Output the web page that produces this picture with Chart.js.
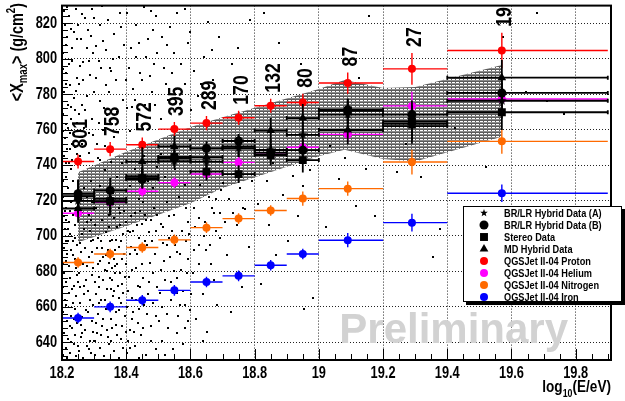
<!DOCTYPE html>
<html>
<head>
<meta charset="utf-8">
<script src="https://cdn.jsdelivr.net/npm/chart.js@4.4.1/dist/chart.umd.min.js"></script>
<style>
  html, body { margin: 0; padding: 0; background: #fff; }
  #wrap { width: 625px; height: 401px; }
</style>
</head>
<body>
<div id="wrap"><canvas id="xmaxChart" width="625" height="401"></canvas></div>
<script>
// <Xmax> vs log10(E/eV) - data sets and QGSJet II-04 expectations

// energy bins
const binCenters = [18.25, 18.35, 18.45, 18.55, 18.65, 18.75, 18.85, 18.95, 19.09, 19.29, 19.57];
const binLow     = [18.2, 18.3, 18.4, 18.5, 18.6, 18.7, 18.8, 18.9, 19.0, 19.2, 19.4];
const binHigh    = [18.3, 18.4, 18.5, 18.6, 18.7, 18.8, 18.9, 19.0, 19.2, 19.4, 19.9];
const eventCounts = ['801', '758', '572', '395', '289', '170', '132', '80', '87', '27', '19'];

// QGSJet II-04 predictions
const protonXmax   = [742.0, 749.0, 751.5, 760.3, 763.7, 766.7, 773.5, 775.3, 786.3, 794.3, 804.7];
const protonErr    = [4, 4, 4, 4, 4, 4, 4, 5, 6, 9, 10];
const heliumXmax   = [712.8, 719.0, 725.2, 730.1, 735.0, 741.5, 746.0, 750.1, 757.3, 773.4, 777.3];
const heliumErr    = [3, 3, 3, 3, 3, 3, 3, 3, 4, 8, 6];
const nitrogenXmax = [685.0, 689.8, 693.5, 697.8, 704.7, 709.8, 714.4, 721.1, 726.7, 741.7, 753.4];
const nitrogenErr  = [3, 3, 3, 3, 3, 3, 3, 4, 4, 7, 7];
const ironXmax     = [653.7, 660.0, 663.7, 669.3, 674.0, 677.5, 683.5, 689.8, 697.6, 707.5, 724.1];
const ironErr      = [3, 3, 3, 3, 3, 3, 3, 3, 4, 5, 5];

// measured data
const hybridAXmax  = [719.8, 719.4, 733.8, 742.2, 742.0, 749.5, 748.5, 757.1, 768.5, 763.2, 776.3];
const hybridAErr   = [7, 6, 5, 4, 4, 5, 6, 7, 7, 9, 10];
const hybridBXmax  = [723.8, 725.7, 732.0, 744.0, 749.4, 753.6, 747.0, 748.4, 771.2, 768.5, 780.7];
const hybridBErr   = [8, 7, 5, 4, 4, 4, 5, 6, 6, 8, 9];
const stereoXmax   = [722.5, 719.6, 732.6, 744.6, 736.3, 734.9, 745.7, 742.8, 770.6, 764.6, 769.8];
const stereoErr    = [9, 8, 6, 5, 5, 5, 6, 7, 7, 9, 10];
const mdXmax       = [715.5, 721.0, 742.0, 750.5, 744.5, 750.5, 759.5, 766.5, 759.8, 762.0, 789.3];
const mdErr        = [8, 8, 8, 6, 6, 6, 7, 8, 8, 10, 10];

// shaded band (edges)
const bandX     = [18.25, 18.4, 18.6, 18.7, 19.0, 19.08, 19.2, 19.3, 19.57];
const bandUpper = [736.0, 747.5, 761.5, 767.0, 783.0, 788.0, 783.5, 784.0, 796.5];
const bandLower = [696.5, 705.5, 718.5, 727.0, 745.0, 748.6, 743.5, 742.0, 756.0];

// axes
const xTickValues = [18.2, 18.4, 18.6, 18.8, 19.0, 19.2, 19.4, 19.6, 19.8];
const xTickLabels = ['18.2', '18.4', '18.6', '18.8', '19', '19.2', '19.4', '19.6', '19.8'];
const yTickValues = [640, 660, 680, 700, 720, 740, 760, 780, 800, 820];

const legendLabels = [
    'BR/LR Hybrid Data (A)', 'BR/LR Hybrid Data (B)', 'Stereo Data', 'MD Hybrid Data',
    'QGSJet II-04 Proton', 'QGSJet II-04 Helium', 'QGSJet II-04 Nitrogen', 'QGSJet II-04 Iron'
];

// individual events (approximate)
const eventDots = [
    [18.203,633],[18.212,637],[18.224,634],[18.236,639],[18.245,632],[18.207,645],[18.219,642],[18.231,648],[18.242,644],
    [18.215,652],[18.204,657],[18.228,655],[18.239,659],[18.248,651],[18.209,664],[18.221,668],[18.233,662],[18.244,666],
    [18.213,674],[18.205,679],[18.226,676],[18.238,672],[18.247,678],[18.211,686],[18.222,683],[18.234,689],[18.243,682],
    [18.206,693],[18.218,697],[18.229,692],[18.241,699],[18.208,704],[18.223,708],[18.214,716],[18.235,712],[18.204,722],
    [18.219,727],[18.211,733],[18.227,738],[18.205,745],[18.216,749],[18.232,743],[18.209,755],[18.224,758],[18.213,763],
    [18.203,769],[18.229,766],[18.218,774],[18.241,771],[18.207,781],[18.226,785],[18.236,778],[18.212,792],[18.221,797],
    [18.246,789],[18.204,803],[18.231,806],[18.217,812],[18.209,819],[18.238,815],[18.223,824],[18.243,828],[18.206,827],
    [18.253,635],[18.266,631],[18.278,638],[18.291,634],[18.259,643],[18.272,647],[18.286,641],[18.297,646],[18.262,654],
    [18.281,657],[18.294,652],[18.256,662],[18.269,667],[18.288,664],[18.257,671],[18.276,675],[18.292,678],[18.264,684],
    [18.283,688],[18.298,682],[18.271,693],[18.289,697],[18.255,745],[18.274,752],[18.268,761],[18.285,758],[18.293,766],
    [18.261,774],[18.279,779],[18.252,786],[18.287,791],[18.266,798],[18.296,803],[18.258,811],[18.281,816],[18.271,823],
    [18.292,828],
    [18.304,633],[18.318,637],[18.331,632],[18.347,639],[18.362,635],[18.378,631],[18.391,637],[18.309,645],[18.325,649],
    [18.342,643],[18.356,648],[18.371,644],[18.386,649],[18.313,656],[18.336,659],[18.352,653],[18.368,657],[18.383,662],
    [18.397,655],[18.306,667],[18.322,664],[18.339,670],[18.359,666],[18.374,672],[18.391,668],[18.315,677],[18.333,681],
    [18.348,676],[18.364,683],[18.381,679],[18.327,688],[18.344,692],[18.361,687],[18.376,694],[18.394,690],[18.311,699],
    [18.337,702],[18.356,698],[18.372,705],[18.389,701],[18.308,752],[18.327,760],[18.341,768],[18.319,776],[18.357,763],
    [18.372,770],[18.336,785],[18.389,777],[18.352,793],[18.314,799],[18.378,801],[18.329,810],[18.363,814],[18.394,808],
    [18.343,822],[18.381,826],
    [18.404,634],[18.428,638],[18.461,633],[18.412,647],[18.446,644],[18.478,649],[18.421,657],[18.455,661],[18.492,655],
    [18.407,669],[18.437,672],[18.469,667],[18.417,681],[18.448,684],[18.482,679],[18.426,692],[18.458,697],[18.489,690],
    [18.405,703],[18.433,706],[18.471,702],[18.415,711],[18.442,714],[18.463,709],[18.486,716],[18.452,719],[18.497,712],
    [18.412,759],[18.436,768],[18.458,774],[18.421,783],[18.479,781],[18.444,792],[18.487,797],[18.416,806],[18.467,811],
    [18.432,819],[18.493,824],
    [18.512,641],[18.546,636],[18.583,648],[18.527,656],[18.568,661],[18.504,668],[18.541,674],[18.589,679],[18.519,686],
    [18.557,691],[18.593,687],[18.533,699],[18.574,703],[18.508,707],[18.549,712],[18.586,716],[18.526,719],[18.565,722],
    [18.508,766],[18.531,777],[18.566,772],[18.582,786],[18.517,795],[18.548,803],[18.591,809],[18.536,818],
    [18.617,653],[18.652,646],[18.638,667],[18.684,661],[18.609,679],[18.663,684],[18.627,695],[18.691,699],[18.645,708],
    [18.673,713],[18.612,716],[18.657,722],[18.696,726],[18.631,729],[18.623,779],[18.671,788],[18.641,801],[18.688,812],
    [18.656,821],
    [18.726,657],[18.762,671],[18.713,689],[18.781,694],[18.744,706],[18.771,715],[18.719,721],[18.755,727],[18.791,731],
    [18.736,735],[18.748,806],[18.786,822],[18.729,797],
    [18.821,673],[18.867,689],[18.905,697],[18.846,706],[18.934,711],[18.812,718],[18.889,723],[18.951,728],[18.838,731],
    [18.918,734],[18.972,737],[18.856,741],[18.982,665],[18.954,659],[18.876,809],[18.944,797],[18.828,826],
    [19.021,705],[19.063,732],[19.115,717],[19.148,738],[19.082,744],[19.176,711],[19.035,751],[19.125,789],[19.157,824],
    [19.243,736],[19.318,733],[19.355,688],[19.376,704],[19.271,752],[19.462,716],[19.533,709],[19.575,812],[19.646,781],
    [19.712,776],[19.764,769],[19.681,826],[19.423,761],[19.522,739],
    // denser lower-left corner
    [18.201,641],[18.217,631],[18.229,640],[18.251,638],[18.263,645],[18.284,636],[18.299,641],[18.214,661],[18.226,649],
    [18.236,653],[18.258,650],[18.274,658],[18.296,661],[18.202,671],[18.231,670],[18.249,674],[18.268,672],[18.281,669],
    [18.203,684],[18.216,690],[18.239,687],[18.252,679],[18.279,683],[18.293,691],[18.211,697],[18.225,701],[18.248,695],
    [18.259,691],[18.286,703],[18.297,698],[18.213,709],[18.242,706],[18.262,701],[18.277,708],[18.208,714],[18.229,719],
    [18.246,725],[18.203,731],[18.221,741],[18.239,750],
    [18.302,641],[18.321,644],[18.339,647],[18.354,641],[18.369,650],[18.384,642],[18.399,646],[18.407,641],[18.423,646],
    [18.437,651],[18.316,662],[18.329,653],[18.345,661],[18.362,669],[18.379,665],[18.401,660],[18.418,665],[18.441,659],
    [18.304,674],[18.319,686],[18.341,680],[18.355,675],[18.372,684],[18.387,673],[18.409,677],[18.429,682],[18.451,676],
    [18.308,693],[18.322,697],[18.349,697],[18.366,692],[18.384,697],[18.398,684],[18.414,694],[18.439,699],[18.302,706],
    [18.326,709],[18.345,705],[18.362,710],[18.381,713],[18.398,708],[18.421,703],[18.449,707],[18.476,709],[18.466,695],
    [18.503,652],[18.531,648],[18.561,655],[18.578,669],[18.509,681],[18.536,688],[18.572,681],[18.597,701],[18.515,696],
    [18.543,703],[18.602,667],[18.628,684],[18.647,692],[18.681,703],[18.709,708],[18.732,713],[18.615,705],[18.667,716],
    [18.703,730],[18.764,716],
    [18.305,651],[18.314,671],[18.327,675],[18.335,664],[18.347,685],[18.353,670],[18.366,679],[18.377,658],[18.388,687],
    [18.395,677],[18.311,684],[18.324,693],[18.338,689],[18.357,682],[18.369,698],[18.382,706],[18.393,714],[18.413,702],
    [18.427,713],[18.435,690],[18.444,671],[18.418,653],[18.431,664],[18.452,648],[18.466,656],[18.473,685],[18.481,697],
    [18.494,703],[18.458,712],[18.413,690],
    [18.218,704],[18.233,697],[18.207,711],[18.226,714],[18.244,716],[18.201,727],[18.234,731],[18.212,741],[18.231,752],
    [18.246,746],[18.203,759],[18.225,749],[18.255,696],[18.269,704],[18.283,712],[18.292,719],
    [18.514,705],[18.532,711],[18.551,695],[18.569,690],[18.587,697],[18.522,675],[18.557,668],[18.598,658],[18.513,660],
    [18.548,680],[18.611,692],[18.626,710],[18.641,700],[18.662,695],[18.679,721],[18.692,713],[18.638,641],[18.672,675],
    [18.411,637],[18.439,631],[18.476,641],[18.494,636],[18.521,633],[18.557,645],[18.578,639],[18.593,652],[18.483,662],
    [18.497,671],[18.539,664],[18.559,676],[18.584,661],[18.528,695],[18.591,708],[18.472,674],
    // inside the band
    [18.262,713],[18.278,722],[18.291,731],[18.305,716],[18.318,728],[18.334,737],[18.346,712],[18.359,724],[18.371,733],
    [18.386,741],[18.399,719],[18.412,728],[18.427,738],[18.441,721],[18.456,745],[18.469,731],[18.483,727],[18.497,739],
    [18.508,746],[18.521,733],[18.539,751],[18.552,738],[18.567,744],[18.584,729],[18.598,754],[18.267,727],[18.289,709],
    [18.311,744],[18.352,742],[18.378,716],
    // upper-left region
    [18.219,761],[18.236,757],[18.248,764],[18.262,752],[18.284,747],[18.201,776],[18.228,773],[18.254,769],[18.273,771],
    [18.297,757],[18.214,786],[18.243,782],[18.266,788],[18.299,781],[18.315,764],[18.331,772],[18.203,794],[18.232,799],
    [18.256,796],[18.277,806],[18.305,789],[18.322,795],[18.211,808],[18.247,811],[18.289,813],[18.318,819],[18.338,805],
    [18.227,817],[18.261,825],[18.301,823],[18.216,829],[18.249,819],[18.284,799],[18.347,781],[18.359,800],
    [18.403,772],[18.426,777],[18.449,788],[18.462,801],[18.474,790],[18.408,795],[18.439,809],[18.483,816],[18.497,803],
    [18.523,786],[18.544,792],[18.571,797],[18.598,815],[18.527,808],[18.559,826],[18.612,793],[18.634,786],[18.667,805],
    [18.403,826],[18.455,829],
    [18.306,807],[18.326,830],[18.349,795],[18.368,788],[18.384,818],[18.398,788],[18.418,773],[18.429,801],[18.476,827],
    [18.491,774],[18.512,812],[18.554,783],[18.582,828],[18.603,771],[18.319,743],[18.333,751],[18.361,756]
];

const WIDE = "'Liberation Sans', Arial, Helvetica, sans-serif";
const SQUEEZE = 0.8;   // ROOT's Helvetica bold looks condensed

// horizontally condensed text
function condensedText(ctx, txt, x, y, size, align, baseline) {
    ctx.save();
    ctx.font = 'bold ' + size + 'px ' + WIDE;
    ctx.textBaseline = baseline || 'alphabetic';
    ctx.textAlign = 'left';
    const w = ctx.measureText(txt).width * SQUEEZE;
    let x0 = x;
    if (align === 'center') x0 = x - w / 2;
    else if (align === 'right') x0 = x - w;
    ctx.translate(x0, y);
    ctx.scale(SQUEEZE, 1);
    ctx.fillText(txt, 0, 0);
    ctx.restore();
    return w;
}
function condensedWidth(ctx, txt, size) {
    ctx.save();
    ctx.font = 'bold ' + size + 'px ' + WIDE;
    const w = ctx.measureText(txt).width * SQUEEZE;
    ctx.restore();
    return w;
}

// filled star marker (ROOT style 29)
function makeStar(r) {
    const c = document.createElement('canvas');
    c.width = c.height = Math.ceil(r * 2 + 2);
    const g = c.getContext('2d');
    const cx = c.width / 2, cy = c.height / 2;
    g.beginPath();
    for (let k = 0; k < 10; k++) {
        const rad = k % 2 === 0 ? r : r * 0.42;
        const a = -Math.PI / 2 + k * Math.PI / 5;
        g.lineTo(cx + rad * Math.cos(a), cy + rad * Math.sin(a));
    }
    g.closePath();
    g.fillStyle = '#000';
    g.fill();
    return c;
}
const starImg = makeStar(5);
const legendStar = makeStar(4);

// grey band with white dashes
function makeHatch(ctx) {
    const c = document.createElement('canvas');
    c.width = 4; c.height = 3;
    const g = c.getContext('2d');
    g.fillStyle = '#5c5c5c';
    g.fillRect(0, 0, 4, 3);
    g.fillStyle = '#8c8c8c';
    g.fillRect(0, 2, 4, 1);
    g.fillStyle = '#ffffff';
    g.fillRect(0, 1, 3, 1);
    return ctx.createPattern(c, 'repeat');
}

const toPoints = ys => ys.map((y, i) => ({ x: binCenters[i], y: y }));

function mcSet(label, values, errs, color, order) {
    return {
        label: label,
        data: toPoints(values),
        errY: errs,
        barColor: color,
        barWidth: 1.4,
        pointStyle: 'circle',
        pointRadius: 4,
        backgroundColor: color,
        borderColor: color,
        borderWidth: 0,
        order: order
    };
}

function dataSet(label, values, errs, style, radius, order) {
    return {
        label: label,
        data: toPoints(values),
        errY: errs,
        barColor: '#000',
        barWidth: 1.8,
        caps: true,
        pointStyle: style,
        pointRadius: radius,
        backgroundColor: '#000',
        borderColor: '#000',
        borderWidth: 0,
        order: order
    };
}

const errorBarPlugin = {
    id: 'errorBars',
    beforeDatasetDraw(chart, args) {
        const ds = chart.data.datasets[args.index];
        const ctx = chart.ctx;

        // event dots: crisp 2x2 squares at the positions the scatter controller computed
        if (ds.eventDots) {
            ctx.save();
            ctx.fillStyle = '#000';
            args.meta.data.forEach(el => {
                ctx.fillRect(Math.round(el.x) - 1, Math.round(el.y) - 1, 2, 2);
            });
            ctx.restore();
            return;
        }
        if (!ds.errY) return;
        const xs = chart.scales.x, ys = chart.scales.y;
        ctx.save();
        ctx.strokeStyle = ds.barColor;
        ctx.lineWidth = ds.barWidth;
        ds.data.forEach((p, i) => {
            const px = xs.getPixelForValue(p.x);
            const py = ys.getPixelForValue(p.y);
            const x0 = xs.getPixelForValue(binLow[i]);
            const x1 = xs.getPixelForValue(binHigh[i]);
            ctx.beginPath();
            ctx.moveTo(x0, py);
            ctx.lineTo(x1, py);
            ctx.moveTo(px, ys.getPixelForValue(p.y - ds.errY[i]));
            ctx.lineTo(px, ys.getPixelForValue(p.y + ds.errY[i]));
            if (ds.caps) {
                ctx.moveTo(x0, py - 2); ctx.lineTo(x0, py + 2);
                ctx.moveTo(x1, py - 2); ctx.lineTo(x1, py + 2);
            }
            ctx.stroke();
        });
        ctx.restore();
    }
};

const decorPlugin = {
    id: 'decor',
    afterDatasetsDraw(chart) {
        const ctx = chart.ctx;
        const xs = chart.scales.x, ys = chart.scales.y;

        // event counts above proton points
        ctx.save();
        ctx.fillStyle = '#000';
        eventCounts.forEach((txt, i) => {
            const px = xs.getPixelForValue(binCenters[i]) + 3;
            const py = ys.getPixelForValue(protonXmax[i] + protonErr[i]) - 6;
            ctx.save();
            ctx.translate(px, py);
            ctx.rotate(-Math.PI / 2);
            condensedText(ctx, txt, 0, 0, 22, 'left', 'middle');
            ctx.restore();
        });
        ctx.restore();

        // watermark
        ctx.save();
        ctx.fillStyle = '#d2d2d2';
        ctx.font = 'bold 42px ' + WIDE;
        ctx.textAlign = 'center';
        ctx.textBaseline = 'alphabetic';
        ctx.fillText('Preliminary', xs.getPixelForValue(19.42), ys.getPixelForValue(639.5));
        ctx.restore();
    },
    afterDraw(chart) {
        const ctx = chart.ctx, a = chart.chartArea;
        const xs = chart.scales.x, ys = chart.scales.y;
        ctx.save();
        ctx.strokeStyle = '#000';

        // inward tick marks
        ctx.lineWidth = 1;
        ctx.beginPath();
        for (let k = 0; ; k++) {
            const v = 18.2 + k * 0.05;
            if (v > xs.max + 1e-9) break;
            const px = Math.round(xs.getPixelForValue(v)) + 0.5;
            const len = k % 4 === 0 ? 11 : 6;
            ctx.moveTo(px, a.bottom);
            ctx.lineTo(px, a.bottom - len);
        }
        for (let v = 632; v <= 828; v += 4) {
            const py = Math.round(ys.getPixelForValue(v)) + 0.5;
            const len = (v - 640) % 20 === 0 ? 11 : 6;
            ctx.moveTo(a.left, py);
            ctx.lineTo(a.left + len, py);
        }
        ctx.stroke();

        // frame
        ctx.lineWidth = 2;
        ctx.strokeRect(a.left, a.top, a.right - a.left, a.bottom - a.top);
        ctx.restore();

        // tick labels
        ctx.save();
        ctx.fillStyle = '#000';
        xTickValues.forEach((v, i) => {
            condensedText(ctx, xTickLabels[i], xs.getPixelForValue(v), a.bottom + 6, 16, 'center', 'top');
        });
        yTickValues.forEach(v => {
            condensedText(ctx, String(v), a.left - 5, ys.getPixelForValue(v), 16, 'right', 'middle');
        });
        ctx.restore();

        // legend
        const box = { left: 463, top: 206, right: 622, bottom: 302 };
        ctx.save();
        ctx.fillStyle = '#000';
        ctx.fillRect(box.left + 3, box.top + 3, box.right - box.left, box.bottom - box.top);
        ctx.fillStyle = '#fff';
        ctx.fillRect(box.left, box.top, box.right - box.left, box.bottom - box.top);
        ctx.strokeStyle = '#000';
        ctx.lineWidth = 1;
        ctx.strokeRect(box.left + 0.5, box.top + 0.5, box.right - box.left - 1, box.bottom - box.top - 1);

        const markers = chart.data.datasets.filter(d => d.legendIndex !== undefined)
            .sort((p, q) => p.legendIndex - q.legendIndex);
        const mx = 484;
        legendLabels.forEach((txt, i) => {
            const ry = box.top + 7 + i * 12;
            const d = markers[i];
            const style = d.pointStyle;
            const r = d.legendRadius;
            ctx.fillStyle = d.backgroundColor;
            if (style === starImg) {
                ctx.drawImage(legendStar, mx - legendStar.width / 2, ry - legendStar.height / 2);
            } else {
                ctx.beginPath();
                if (style === 'circle') ctx.arc(mx, ry, r, 0, Math.PI * 2);
                else if (style === 'rect') ctx.rect(mx - r * 0.707, ry - r * 0.707, r * 1.414, r * 1.414);
                else if (style === 'triangle') {
                    ctx.moveTo(mx, ry - r);
                    ctx.lineTo(mx + r * 0.87, ry + r * 0.5);
                    ctx.lineTo(mx - r * 0.87, ry + r * 0.5);
                    ctx.closePath();
                }
                ctx.fill();
            }
            ctx.fillStyle = '#000';
            condensedText(ctx, txt, 504, ry + 0.5, 11.5, 'left', 'middle');
        });
        ctx.restore();

        // x title: log10(E/eV)
        ctx.save();
        ctx.fillStyle = '#000';
        const wLog = condensedWidth(ctx, 'log', 17);
        const wSub = condensedWidth(ctx, '10', 11);
        const wPar = condensedWidth(ctx, '(E/eV)', 17);
        let tx = a.right - (wLog + wSub + wPar);
        const base = 392;
        tx += condensedText(ctx, 'log', tx, base, 17, 'left');
        tx += condensedText(ctx, '10', tx, base + 5, 11, 'left');
        condensedText(ctx, '(E/eV)', tx, base, 17, 'left');
        ctx.restore();

        // y title: <Xmax> (g/cm2)
        ctx.save();
        ctx.fillStyle = '#000';
        ctx.translate(23, 3);
        ctx.rotate(-Math.PI / 2);
        const parts = [['<X', 18, 0], ['max', 12, 4], ['> (g/cm', 18, 0], ['2', 12, -8], [')', 18, 0]];
        let total = 0;
        parts.forEach(p => { total += condensedWidth(ctx, p[0], p[1]); });
        let ty = -total;
        parts.forEach(p => { ty += condensedText(ctx, p[0], ty, p[2], p[1], 'left'); });
        ctx.restore();
    }
};

const ctx = document.getElementById('xmaxChart').getContext('2d');
const hatch = makeHatch(ctx);

const datasets = [
    {
        label: 'band upper',
        data: bandX.map((x, i) => ({ x: x, y: bandUpper[i] })),
        showLine: true, tension: 0, pointRadius: 0, borderWidth: 0,
        borderColor: 'rgba(0,0,0,0)', backgroundColor: hatch,
        fill: 1, order: 30
    },
    {
        label: 'band lower',
        data: bandX.map((x, i) => ({ x: x, y: bandLower[i] })),
        showLine: true, tension: 0, pointRadius: 0, borderWidth: 0,
        borderColor: 'rgba(0,0,0,0)', backgroundColor: 'rgba(0,0,0,0)',
        fill: false, order: 31
    },
    {
        label: 'events',
        eventDots: true,
        data: eventDots.map(p => ({ x: p[0], y: p[1] })),
        pointRadius: 0, borderWidth: 0,
        backgroundColor: '#000', order: 20
    },
    Object.assign(mcSet('QGSJet II-04 Iron', ironXmax, ironErr, '#0000ff', 13), { legendIndex: 7, legendRadius: 4 }),
    Object.assign(mcSet('QGSJet II-04 Nitrogen', nitrogenXmax, nitrogenErr, '#ff6a00', 12), { legendIndex: 6, legendRadius: 4 }),
    Object.assign(mcSet('QGSJet II-04 Helium', heliumXmax, heliumErr, '#ff00ff', 11), { legendIndex: 5, legendRadius: 4 }),
    Object.assign(mcSet('QGSJet II-04 Proton', protonXmax, protonErr, '#ff0000', 10), { legendIndex: 4, legendRadius: 4 }),
    Object.assign(dataSet('Stereo Data', stereoXmax, stereoErr, 'rect', 5.6, 4), { legendIndex: 2, legendRadius: 5.6 }),
    Object.assign(dataSet('MD Hybrid Data', mdXmax, mdErr, 'triangle', 5, 3), { legendIndex: 3, legendRadius: 5 }),
    Object.assign(dataSet('BR/LR Hybrid Data (A)', hybridAXmax, hybridAErr, starImg, 5, 2), { legendIndex: 0, legendRadius: 3.5 }),
    Object.assign(dataSet('BR/LR Hybrid Data (B)', hybridBXmax, hybridBErr, 'circle', 4.5, 1), { legendIndex: 1, legendRadius: 4.5 })
];

new Chart(ctx, {
    type: 'scatter',
    data: { datasets: datasets },
    options: {
        responsive: false,
        animation: false,
        devicePixelRatio: 1,
        layout: { padding: { top: 3, right: 14, left: 0, bottom: 0 } },
        plugins: {
            legend: { display: false },
            tooltip: { enabled: false }
        },
        scales: {
            x: {
                type: 'linear',
                min: 18.2,
                max: 19.91,
                afterBuildTicks: s => { s.ticks = xTickValues.map(v => ({ value: v })); },
                afterFit: s => { s.height = 41; },
                grid: { color: '#222', lineWidth: 1, drawTicks: false },
                border: { display: false, dash: [1, 2] },
                ticks: { display: false }
            },
            y: {
                type: 'linear',
                min: 630,
                max: 830,
                afterBuildTicks: s => { s.ticks = yTickValues.map(v => ({ value: v })); },
                afterFit: s => { s.width = 62; },
                grid: { color: '#222', lineWidth: 1, drawTicks: false },
                border: { display: false, dash: [1, 2] },
                ticks: { display: false }
            }
        }
    },
    plugins: [errorBarPlugin, decorPlugin]
});
</script>
</body>
</html>
